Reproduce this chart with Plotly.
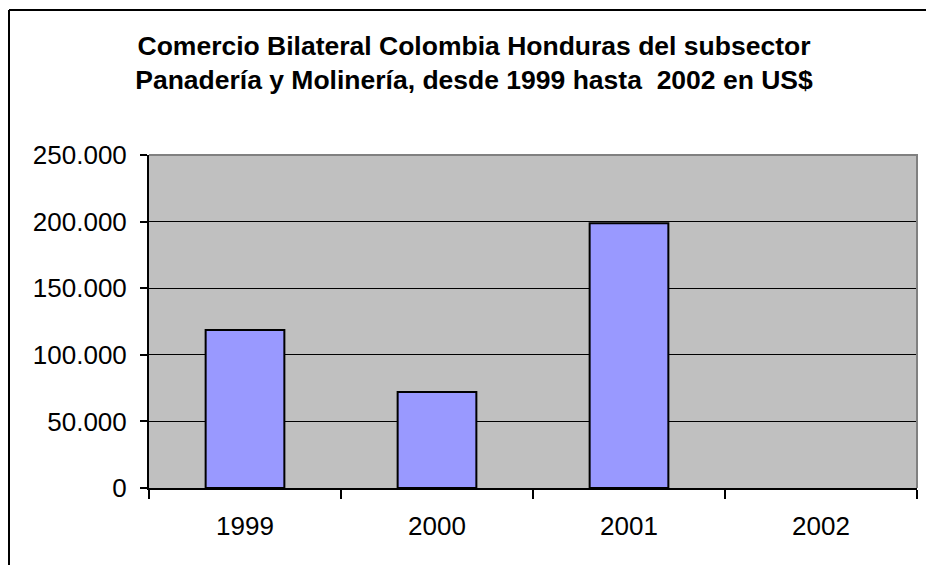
import plotly.graph_objects as go

# Trade values (US$) per year
years = ["1999", "2000", "2001", "2002"]
values = [118600, 72100, 198700, None]
y_ticks = [0, 50000, 100000, 150000, 200000, 250000]

W, H = 926, 565
L, R, T, B = 149, 9, 155, 77
pw, ph = W - L - R, H - T - B


def px_x(px):
    return (px - L) / pw


def px_y(py):
    return (H - B - py) / ph


fig = go.Figure(
    go.Bar(
        x=years,
        y=values,
        width=0.41,
        marker=dict(color="#9999FF", line=dict(color="black", width=2)),
        hoverinfo="x+y",
    )
)

font = "Liberation Sans, Arial, sans-serif"

fig.update_layout(
    width=W,
    height=H,
    margin=dict(l=L, r=R, t=T, b=B, pad=0),
    paper_bgcolor="white",
    plot_bgcolor="#C0C0C0",
    separators=",.",
    showlegend=False,
    font=dict(family=font, color="black"),
    title=dict(
        text="<b>Comercio Bilateral Colombia Honduras del subsector<br>"
             "Panadería y Molinería, desde 1999 hasta  2002 en US$</b>",
        x=474 / W,
        xanchor="center",
        xref="container",
        y=1 - 55 / H,
        yanchor="middle",
        font=dict(family=font, size=26.5, color="black"),
    ),
    xaxis=dict(
        type="category",
        showgrid=False,
        showline=True,
        linecolor="black",
        linewidth=2,
        ticks="outside",
        tickson="boundaries",
        ticklen=9,
        tickwidth=2,
        tickcolor="black",
        tickfont=dict(family=font, size=26, color="black"),
        ticklabelstandoff=14,
        range=[-0.5, 3.5],
    ),
    yaxis=dict(
        range=[0, 250000],
        tickvals=y_ticks,
        tickformat=",",
        showgrid=True,
        gridcolor="black",
        gridwidth=1,
        zeroline=False,
        showline=True,
        linecolor="black",
        linewidth=2,
        ticks="outside",
        ticklen=7,
        tickwidth=2,
        tickcolor="black",
        tickfont=dict(family=font, size=26, color="black"),
        ticklabelstandoff=8,
    ),
    shapes=[
        # gray frame on top and right of the plotting area
        dict(type="path", xref="paper", yref="paper",
             path="M 0,1 L 1,1 L 1,0",
             line=dict(color="#808080", width=2), layer="above"),
        # outer chart border: top edge
        dict(type="line", xref="paper", yref="paper",
             x0=px_x(9), x1=px_x(926), y0=px_y(10), y1=px_y(10),
             line=dict(color="black", width=2), layer="above"),
        # outer chart border: left edge
        dict(type="line", xref="paper", yref="paper",
             x0=px_x(9), x1=px_x(9), y0=px_y(10), y1=px_y(565),
             line=dict(color="black", width=2), layer="above"),
    ],
)

fig.write_html("out.html", config={"displayModeBar": False, "responsive": False})
